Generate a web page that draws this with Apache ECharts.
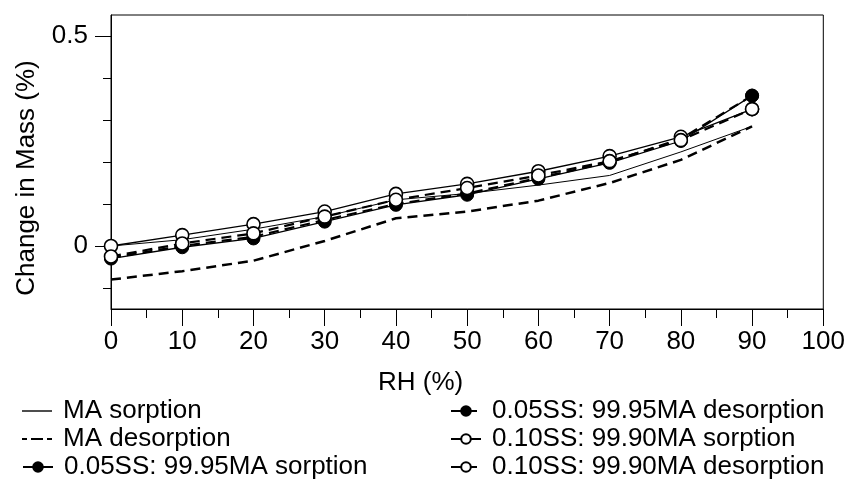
<!DOCTYPE html>
<html>
<head>
<meta charset="utf-8">
<script src="https://cdn.jsdelivr.net/npm/echarts@6/dist/echarts.min.js"></script>
<style>
html,body{margin:0;padding:0;background:#fff;}
#chart{width:848px;height:486px;}
</style>
</head>
<body>
<div id="chart"></div>
<script>
var rh = [0, 10, 20, 30, 40, 50, 60, 70, 80, 90];
var maSorption = [0.0, 0.015, 0.04, 0.07, 0.11, 0.125, 0.145, 0.168, 0.224, 0.285];
var maDesorption = [-0.08, -0.06, -0.035, 0.012, 0.066, 0.082, 0.108, 0.15, 0.205, 0.285];
var ss05Sorption = [-0.03, -0.003, 0.018, 0.058, 0.098, 0.122, 0.16, 0.198, 0.25, 0.358];
var ss05Desorption = [-0.028, 0.0, 0.022, 0.062, 0.1, 0.125, 0.162, 0.2, 0.255, 0.358];
var ss10Sorption = [0.0, 0.026, 0.052, 0.082, 0.124, 0.148, 0.178, 0.214, 0.26, 0.326];
var ss10Desorption = [-0.025, 0.006, 0.03, 0.07, 0.11, 0.138, 0.168, 0.202, 0.252, 0.326];
var seriesNames = ['MA sorption', 'MA desorption', '0.05SS: 99.95MA sorption',
  '0.05SS: 99.95MA desorption', '0.10SS: 99.90MA sorption', '0.10SS: 99.90MA desorption'];
var yMajorTicks = [0, 0.5];
var yMinorTicks = [-0.1, 0.1, 0.2, 0.3, 0.4];
var xTitle = 'RH (%)';
var yTitle = 'Change in Mass (%)';

function pairs(vals){ return rh.map(function(x,i){ return [x, vals[i]]; }); }
var FONT = '"Liberation Sans", Arial, Helvetica, sans-serif';
var FS = 26;
var dash = [10, 6];
function mk(name, vals, lineType, width, sym){
  return {
    name: name, type: 'line', data: pairs(vals), yAxisIndex: 0,
    lineStyle: {color: '#000', width: width, type: lineType},
    symbol: sym ? 'circle' : 'none', symbolSize: 13, showSymbol: !!sym,
    itemStyle: sym === 'open' ? {color: '#fff', borderColor: '#000', borderWidth: 1.6}
             : {color: '#000', borderColor: '#000', borderWidth: 1},
    silent: true, animation: false, z: sym === 'open' ? 4 : 3
  };
}
var series = [
  mk(seriesNames[0], maSorption, 'solid', 1, null),
  mk(seriesNames[1], maDesorption, dash, 2.5, null),
  mk(seriesNames[2], ss05Sorption, 'solid', 1.3, 'filled'),
  mk(seriesNames[3], ss05Desorption, dash, 2.2, 'filled'),
  mk(seriesNames[4], ss10Sorption, 'solid', 1.3, 'open'),
  mk(seriesNames[5], ss10Desorption, dash, 2.2, 'open')
];
var legendIcons = [
  'path://M0,0H30V1.4H0Z',
  'path://M0,0H5V2.2H0Z M9,0H21V2.2H9Z M25,0H30V2.2H25Z',
  null, null, null, null
];
var legendLeft = [22, 22, 22, 450, 450, 450];
var legendTop = [398, 426, 454, 398, 426, 454];
var legends = seriesNames.map(function(n, i){
  var item = {name: n};
  if (legendIcons[i]) {
    item.icon = legendIcons[i];
    item.itemStyle = {color: '#000', borderWidth: 0};
  }
  return {
    orient: 'horizontal', left: legendLeft[i], top: legendTop[i], itemWidth: 30, itemHeight: 12,
    data: [item], selectedMode: false, padding: 0,
    textStyle: {fontSize: FS, color: '#000', fontFamily: FONT, padding: [0, 0, 0, 6]}
  };
});
var chart = echarts.init(document.getElementById('chart'), null, {renderer: 'canvas'});
chart.setOption({
  animation: false,
  textStyle: {fontFamily: FONT},
  grid: {left: 111, right: 22, top: 15, bottom: 177, show: true, borderColor: '#000', borderWidth: 1},
  legend: legends,
  graphic: [
    {type: 'text', left: 378, top: 370, silent: true,
     style: {text: xTitle, fontSize: FS, fontFamily: FONT, fill: '#000'}},
    {type: 'text', x: 27, y: 178, rotation: Math.PI / 2, silent: true,
     style: {text: yTitle, fontSize: FS, fontFamily: FONT, fill: '#000', align: 'center', verticalAlign: 'middle'}}
  ],
  xAxis: {
    type: 'value', min: 0, max: 100, interval: 10,
    axisLine: {show: true, onZero: false, lineStyle: {color: '#000', width: 1}},
    axisTick: {show: true, length: 17, lineStyle: {color: '#000', width: 1}},
    minorTick: {show: true, splitNumber: 2, length: 9, lineStyle: {color: '#000', width: 1}},
    axisLabel: {fontSize: FS, color: '#000', margin: 20, fontFamily: FONT},
    splitLine: {show: false}
  },
  yAxis: [
    {
      type: 'value', min: -0.15, max: 0.55, position: 'left',
      axisLine: {show: true, onZero: false, lineStyle: {color: '#000', width: 1}},
      axisTick: {show: true, customValues: yMajorTicks, length: 16, lineStyle: {color: '#000', width: 1}},
      axisLabel: {customValues: yMajorTicks, fontSize: FS, color: '#000', margin: 23, fontFamily: FONT,
                  formatter: function(v){ return String(Math.round(v*10)/10); }},
      splitLine: {show: false}
    },
    {
      type: 'value', min: -0.15, max: 0.55, position: 'left', offset: 0,
      axisLine: {show: false, onZero: false},
      axisTick: {show: true, customValues: yMinorTicks, length: 8, lineStyle: {color: '#000', width: 1}},
      axisLabel: {show: false},
      splitLine: {show: false}
    }
  ],
  series: series
});
</script>
</body>
</html>
